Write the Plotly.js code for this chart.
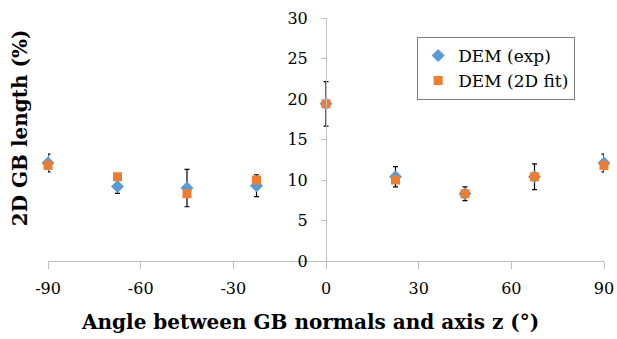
<!DOCTYPE html>
<html>
<head>
<meta charset="utf-8">
<script src="https://cdn.plot.ly/plotly-3.0.1.min.js"></script>
<style>html,body{margin:0;padding:0;background:#fff;}#chart{width:617px;height:339px;}</style>
</head>
<body>
<div id="chart"></div>
<script>
const angles = [-90, -67.5, -45, -22.5, 0, 22.5, 45, 67.5, 90];
const demExp = [12.1, 9.2, 9.0, 9.3, 19.4, 10.4, 8.3, 10.4, 12.1];
const demExpErr = [1.1, 0.85, 2.3, 1.35, 2.75, 1.25, 0.85, 1.6, 1.1];
const demFit = [11.8, 10.4, 8.3, 10.0, 19.4, 10.0, 8.3, 10.4, 11.8];
const xTicks = [-90, -60, -30, 0, 30, 60, 90];
const yTicks = [0, 5, 10, 15, 20, 25, 30];
const seriesNames = ['DEM (exp)', 'DEM (2D fit)'];
const xTitle = 'Angle between GB normals and axis z (°)';
const yTitle = '2D GB length (%)';

const serif = 'DejaVu Serif, serif';

const traces = [
  {
    x: angles, y: demExp, name: seriesNames[0], type: 'scatter', mode: 'markers',
    cliponaxis: false,
    marker: {symbol: 'diamond', size: 10, color: '#5B9BD5'},
    error_y: {type: 'data', array: demExpErr, visible: true, color: '#000000', thickness: 1.2, width: 2.5}
  },
  {
    x: angles, y: demFit, name: seriesNames[1], type: 'scatter', mode: 'markers',
    cliponaxis: false,
    marker: {symbol: 'square', size: 9, color: '#ED7D31'}
  }
];

const layout = {
  width: 617, height: 339,
  margin: {l: 48, r: 13, t: 18, b: 78},
  paper_bgcolor: '#ffffff', plot_bgcolor: '#ffffff',
  font: {family: serif, size: 16, color: '#000000'},
  showlegend: true,
  legend: {
    x: 0.664, y: 0.922, xanchor: 'left', yanchor: 'top',
    bordercolor: '#7f7f7f', borderwidth: 1, bgcolor: '#ffffff',
    font: {family: serif, size: 17, color: '#000000'},
    itemwidth: 30
  },
  xaxis: {
    range: [-90, 90], tickvals: xTicks, ticktext: xTicks.map(String),
    showgrid: false, zeroline: false,
    showline: true, linecolor: '#bfbfbf', linewidth: 1,
    ticks: 'outside', ticklen: 7, tickcolor: '#bfbfbf', tickwidth: 1,
    ticklabelstandoff: 6,
    tickfont: {family: serif, size: 16}
  },
  yaxis: {
    range: [0, 30], tickvals: yTicks, ticktext: yTicks.map(String),
    anchor: 'free', position: 0.5,
    showgrid: false, zeroline: false,
    showline: true, linecolor: '#bfbfbf', linewidth: 1,
    ticks: 'outside', ticklen: 5, tickcolor: '#bfbfbf', tickwidth: 1,
    ticklabelstandoff: 10,
    tickfont: {family: serif, size: 16}
  },
  annotations: [
    {
      text: '<b>' + yTitle + '</b>', textangle: -90,
      xref: 'paper', yref: 'paper', x: -0.05, y: 0.547,
      xanchor: 'center', yanchor: 'middle', showarrow: false,
      font: {family: serif, size: 20, color: '#000000'}
    },
    {
      text: '<b>' + xTitle + '</b>',
      xref: 'paper', yref: 'paper', x: 0.4712, y: -0.25,
      xanchor: 'center', yanchor: 'middle', showarrow: false,
      font: {family: serif, size: 20, color: '#000000'}
    }
  ]
};

Plotly.newPlot('chart', traces, layout, {displayModeBar: false, staticPlot: true});
</script>
</body>
</html>
